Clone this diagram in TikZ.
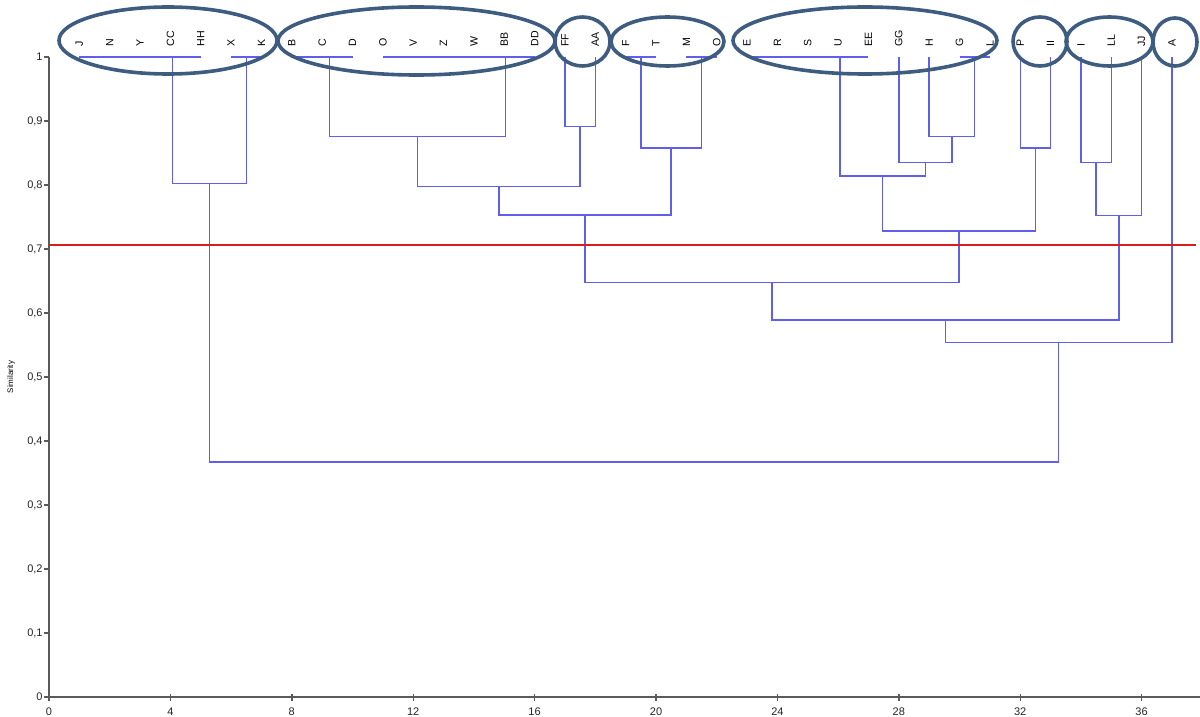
\documentclass[tikz,border=0pt]{standalone}
\usepackage{fontspec}
\setmainfont{Liberation Sans}
\definecolor{treeblue}{RGB}{95,95,235}
\definecolor{grpblue}{RGB}{62,92,128}
\definecolor{cutred}{RGB}{215,30,30}
\definecolor{axisgray}{RGB}{90,90,90}
\newcommand\dlink[3]{\draw[tree] (#1) |- (#3) -| (#2);}
\begin{document}
\begin{tikzpicture}[x=0.5pt,y=-0.5pt,
  tree/.style={draw=treeblue,line width=0.7pt},
  grp/.style={draw=grpblue,line width=1.8pt},
  cutline/.style={draw=cutred,line width=0.8pt},
  axisline/.style={draw=axisgray,line width=0.7pt},
  ticklbl/.style={inner sep=0pt,font=\fontsize{5.5}{6}\selectfont,text=black!85},
  leaflbl/.style={inner sep=0pt,rotate=90,anchor=west,font=\fontsize{5.3}{6}\selectfont}]
\useasboundingbox (0,0) rectangle (1200,717);
\fill[white] (0,0) rectangle (1200,717);

% axes
\draw[axisline] (49,57) -- (49,697) -- (1200,697);
\foreach \k/\t in {0/0,1/{0,1},2/{0,2},3/{0,3},4/{0,4},5/{0,5},6/{0,6},7/{0,7},8/{0,8},9/{0,9},10/1}{
  \draw[axisline] (44,697-64*\k) -- (49,697-64*\k);
  \node[ticklbl,anchor=east] (yt\k) at (43,697-64*\k) {\t};
}
\foreach \k in {0,...,9}{
  \pgfmathtruncatemacro\v{4*\k}
  \draw[axisline] (49+121.4*\k,694) -- (49+121.4*\k,701);
  \node[ticklbl] (xt\k) at (49+121.4*\k,712) {\v};
}
\node[inner sep=0pt,rotate=90,font=\fontsize{4}{4}\selectfont] (ytitle) at (11,377) {Similarity};

% dendrogram in data units: x = leaf index, y = similarity
\begin{scope}[shift={(49,697)},x=15.175pt,y=320pt]
  \foreach \t [count=\i] in {J,N,Y,CC,HH,X,K,B,C,D,O,V,Z,W,BB,DD,FF,AA,F,T,M,O,E,R,S,U,EE,GG,H,G,L,P,II,I,LL,JJ,A}{
    \coordinate (l\i) at (\i,1);
    \node[leaflbl] (t\i) at (\i,1.0156) {\t};
  }

  % J N Y CC HH | X K
  \coordinate (mJN) at (1.5,1);
  \coordinate (mJY) at (2.25,1);
  \coordinate (mJC) at (3.125,1);
  \coordinate (mJH) at (4.0625,1);
  \dlink{l1}{l2}{mJN} \dlink{mJN}{l3}{mJY} \dlink{mJY}{l4}{mJC} \dlink{mJC}{l5}{mJH}
  \coordinate (mXK) at (6.5,1);
  \dlink{l6}{l7}{mXK}
  \coordinate (mG1) at (5.28125,0.802);
  \dlink{mJH}{mXK}{mG1}

  % B C D | O V Z W BB DD
  \coordinate (mBC) at (8.5,1);
  \coordinate (mBD) at (9.25,1);
  \dlink{l8}{l9}{mBC} \dlink{mBC}{l10}{mBD}
  \coordinate (mOV) at (11.5,1);
  \coordinate (mOZ) at (12.25,1);
  \coordinate (mOW) at (13.125,1);
  \coordinate (mOB) at (14.0625,1);
  \coordinate (mOD) at (15.03125,1);
  \dlink{l11}{l12}{mOV} \dlink{mOV}{l13}{mOZ} \dlink{mOZ}{l14}{mOW}
  \dlink{mOW}{l15}{mOB} \dlink{mOB}{l16}{mOD}
  \coordinate (mBO) at (12.140625,0.876);
  \dlink{mBD}{mOD}{mBO}
  \coordinate (mFA) at (17.5,0.891);
  \dlink{l17}{l18}{mFA}
  \coordinate (mBF) at (14.8203,0.798);
  \dlink{mBO}{mFA}{mBF}

  % F T | M O
  \coordinate (mFT) at (19.5,1);
  \coordinate (mMO) at (21.5,1);
  \dlink{l19}{l20}{mFT} \dlink{l21}{l22}{mMO}
  \coordinate (mFO) at (20.5,0.858);
  \dlink{mFT}{mMO}{mFO}
  \coordinate (mBT) at (17.6602,0.753);
  \dlink{mBF}{mFO}{mBT}

  % E R S U EE | GG H G L
  \coordinate (mER) at (23.5,1);
  \coordinate (mES) at (24.25,1);
  \coordinate (mEU) at (25.125,1);
  \coordinate (mEE) at (26.0625,1);
  \dlink{l23}{l24}{mER} \dlink{mER}{l25}{mES} \dlink{mES}{l26}{mEU} \dlink{mEU}{l27}{mEE}
  \coordinate (mGL) at (30.5,1);
  \dlink{l30}{l31}{mGL}
  \coordinate (mHL) at (29.75,0.876);
  \dlink{l29}{mGL}{mHL}
  \coordinate (mGG) at (28.875,0.835);
  \dlink{l28}{mHL}{mGG}
  \coordinate (mEL) at (27.46875,0.814);
  \dlink{mEE}{mGG}{mEL}

  % P II
  \coordinate (mPI) at (32.5,0.858);
  \dlink{l32}{l33}{mPI}
  \coordinate (mEI) at (29.9844,0.728);
  \dlink{mEL}{mPI}{mEI}
  \coordinate (mBI) at (23.8223,0.648);
  \dlink{mBT}{mEI}{mBI}

  % I LL JJ
  \coordinate (mIL) at (34.5,0.835);
  \dlink{l34}{l35}{mIL}
  \coordinate (mIJ) at (35.25,0.752);
  \dlink{mIL}{l36}{mIJ}
  \coordinate (mBJ) at (29.5361,0.589);
  \dlink{mBI}{mIJ}{mBJ}

  % A and the root
  \coordinate (mBA) at (33.2681,0.554);
  \dlink{mBJ}{l37}{mBA}
  \coordinate (mAll) at (19.2747,0.367);
  \dlink{mG1}{mBA}{mAll}

  % cut level
  \coordinate (cutL) at (0,0.706);
  \coordinate (cutR) at (37.8,0.706);
  \draw[cutline] (cutL) -- (cutR);
\end{scope}

% group outlines
\draw[grp] (168,40.5) ellipse [x radius=54.5pt,y radius=16.75pt];
\draw[grp] (416.5,41) ellipse [x radius=69.25pt,y radius=17pt];
\draw[grp] (582.5,41.5) ellipse [x radius=13.75pt,y radius=12.25pt];
\draw[grp] (667.5,41.5) ellipse [x radius=28.25pt,y radius=12.25pt];
\draw[grp] (865,40.5) ellipse [x radius=66pt,y radius=16.75pt];
\draw[grp] (1040,41.5) ellipse [x radius=13.5pt,y radius=12.25pt];
\draw[grp] (1109.5,41.5) ellipse [x radius=21.75pt,y radius=12.25pt];
\draw[grp] (1175,42) ellipse [x radius=11pt,y radius=12pt];
\end{tikzpicture}
\end{document}
